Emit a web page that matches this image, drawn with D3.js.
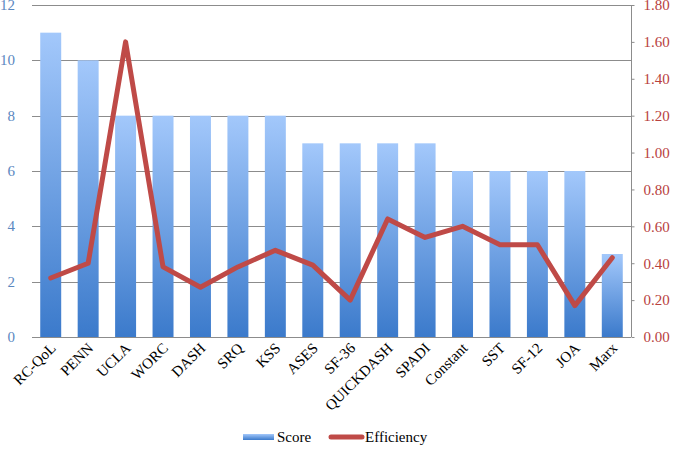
<!DOCTYPE html>
<html>
<head>
<meta charset="utf-8">
<script src="https://cdn.jsdelivr.net/npm/d3@7"></script>
<style>
  body { margin: 0; background: #fff; }
  text { font-family: "Liberation Serif", "DejaVu Serif", serif; }
</style>
</head>
<body>
<svg id="chart" width="674" height="455"></svg>
<script>
// chart data
var categories = ['RC-QoL', 'PENN', 'UCLA', 'WORC', 'DASH', 'SRQ', 'KSS', 'ASES', 'SF-36',
    'QUICKDASH', 'SPADI', 'Constant', 'SST', 'SF-12', 'JOA', 'Marx'];
var scores = [11, 10, 8, 8, 8, 8, 8, 7, 7, 7, 7, 6, 6, 6, 6, 3];
var efficiency = [0.32, 0.40, 1.60, 0.38, 0.27, 0.38, 0.47, 0.39, 0.20, 0.64, 0.54, 0.60, 0.50, 0.50, 0.17, 0.43];
var leftTicks = [0, 2, 4, 6, 8, 10, 12];
var rightTicks = [0, 0.2, 0.4, 0.6, 0.8, 1.0, 1.2, 1.4, 1.6, 1.8];

var plotLeft = 32, plotRight = 631, plotTop = 5, plotBottom = 337;

var svg = d3.select('#chart');

var defs = svg.append('defs');
var grad = defs.append('linearGradient')
    .attr('id', 'barFill')
    .attr('x1', 0).attr('y1', 0).attr('x2', 0).attr('y2', 1);
grad.append('stop').attr('offset', '0%').attr('stop-color', '#a3c8fb');
grad.append('stop').attr('offset', '100%').attr('stop-color', '#3b7acb');

var x = d3.scaleBand()
    .domain(categories)
    .range([plotLeft, plotRight])
    .paddingInner(0.44)
    .paddingOuter(0.22);

var y = d3.scaleLinear().domain([0, 12]).range([plotBottom, plotTop]);
var y2 = d3.scaleLinear().domain([0, 1.8]).range([plotBottom, plotTop]);

// gridlines
svg.append('g')
    .selectAll('line')
    .data(leftTicks.slice(1))
    .enter().append('line')
    .attr('x1', plotLeft)
    .attr('x2', plotRight)
    .attr('y1', function(d) { return Math.round(y(d)) + 0.5; })
    .attr('y2', function(d) { return Math.round(y(d)) + 0.5; })
    .attr('stroke', '#8c8c8c')
    .attr('stroke-width', 1);

// left labels
svg.append('g')
    .selectAll('text')
    .data(leftTicks)
    .enter().append('text')
    .attr('x', 15)
    .attr('y', function(d) { return y(d) + 5; })
    .attr('text-anchor', 'end')
    .attr('font-size', 15)
    .attr('fill', '#5b87bf')
    .text(function(d) { return d; });

// bars
svg.append('g')
    .selectAll('rect')
    .data(scores)
    .enter().append('rect')
    .attr('x', function(d, i) { return x(categories[i]); })
    .attr('y', function(d) { return y(d); })
    .attr('width', x.bandwidth())
    .attr('height', function(d) { return plotBottom - y(d); })
    .attr('fill', 'url(#barFill)');

// bottom axis line
svg.append('line')
    .attr('x1', plotLeft).attr('x2', plotRight)
    .attr('y1', plotBottom + 0.5).attr('y2', plotBottom + 0.5)
    .attr('stroke', '#8c8c8c');

// right axis
var rightAxis = d3.axisRight(y2)
    .tickValues(rightTicks)
    .tickSize(3)
    .tickPadding(9)
    .tickFormat(d3.format('.2f'));

var ra = svg.append('g')
    .attr('transform', 'translate(' + (plotRight + 0.5) + ',0)')
    .call(rightAxis);
ra.select('.domain').attr('stroke', '#8c8c8c').attr('d', 'M0,' + plotTop + 'V' + plotBottom);
ra.selectAll('.tick line').attr('stroke', '#8c8c8c');
ra.selectAll('.tick text')
    .attr('font-family', '"Liberation Serif", serif')
    .attr('font-size', 15)
    .attr('fill', '#b8413e');

// efficiency line
var line = d3.line()
    .x(function(d, i) { return x(categories[i]) + x.bandwidth() / 2; })
    .y(function(d) { return y2(d); });

svg.append('path')
    .datum(efficiency)
    .attr('d', line)
    .attr('fill', 'none')
    .attr('stroke', '#bf4a47')
    .attr('stroke-width', 5)
    .attr('stroke-linejoin', 'round')
    .attr('stroke-linecap', 'round');

// x labels
svg.append('g')
    .selectAll('text')
    .data(categories)
    .enter().append('text')
    .attr('transform', function(d) {
        return 'translate(' + (x(d) + x.bandwidth() / 2 + 6) + ',' + (plotBottom + 12) + ') rotate(-45)';
    })
    .attr('text-anchor', 'end')
    .attr('font-size', 15)
    .attr('fill', '#000')
    .text(function(d) { return d; });

// legend
var legend = svg.append('g');
legend.append('rect')
    .attr('x', 243).attr('y', 434)
    .attr('width', 31).attr('height', 6)
    .attr('fill', 'url(#barFill)');
legend.append('text')
    .attr('x', 277).attr('y', 442)
    .attr('font-size', 15)
    .attr('fill', '#000')
    .text('Score');
legend.append('line')
    .attr('x1', 331).attr('x2', 362)
    .attr('y1', 437).attr('y2', 437)
    .attr('stroke', '#bf4a47')
    .attr('stroke-width', 5)
    .attr('stroke-linecap', 'round');
legend.append('text')
    .attr('x', 365).attr('y', 442)
    .attr('font-size', 15)
    .attr('fill', '#000')
    .text('Efficiency');
</script>
</body>
</html>
